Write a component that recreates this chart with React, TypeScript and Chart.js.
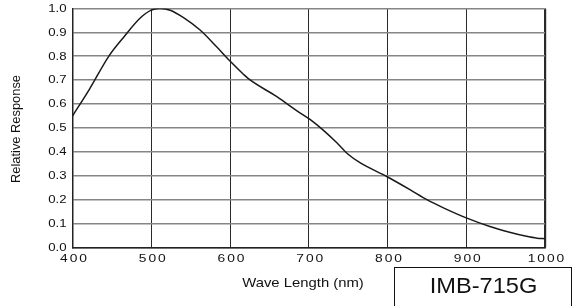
import React, { useEffect, useRef } from "react";
import { Chart, registerables } from "chart.js";

Chart.register(...registerables);

// Data
const wavelengths = [400, 422, 446, 465, 486, 500, 511, 524, 541, 562, 583, 600, 617, 625, 659, 685, 702, 718, 736, 750, 765, 799, 829, 850, 871, 900, 930, 955, 975, 990, 1000];
const response = [0.55, 0.665, 0.80, 0.88, 0.96, 0.993, 1.0, 0.993, 0.962, 0.91, 0.84, 0.78, 0.725, 0.702, 0.632, 0.572, 0.535, 0.492, 0.437, 0.39, 0.355, 0.297, 0.241, 0.20, 0.166, 0.124, 0.088, 0.064, 0.048, 0.039, 0.037];
const xTickValues = [400, 500, 600, 700, 800, 900, 1000];
const yTickValues = [0, 0.1, 0.2, 0.3, 0.4, 0.5, 0.6, 0.7, 0.8, 0.9, 1.0];
const yTickLabels = ["0.0", "0.1", "0.2", "0.3", "0.4", "0.5", "0.6", "0.7", "0.8", "0.9", "1.0"];
const xTitle = "Wave Length (nm)";
const yTitle = "Relative Response";
const modelLabel = "IMB-715G";

const FONT = "Arial, 'Liberation Sans', sans-serif";

function stretchedText(ctx: CanvasRenderingContext2D, text: string, x: number, y: number, sx: number, align: CanvasTextAlign, ls = 0) {
  ctx.save();
  ctx.translate(x, y);
  ctx.scale(sx, 1);
  (ctx as any).letterSpacing = ls + "px";
  ctx.textAlign = align;
  ctx.textBaseline = "middle";
  let dx = 0;
  if (ls && align === "center") dx = ls / 2;
  if (ls && align === "right") dx = ls;
  ctx.fillText(text, dx, 0);
  ctx.restore();
}

const decorPlugin = {
  id: "decor",
  afterDraw(chart: any) {
    const ctx: CanvasRenderingContext2D = chart.ctx;
    const xs = chart.scales.x;
    const ys = chart.scales.y;
    const area = chart.chartArea;
    ctx.save();
    ctx.fillStyle = "#111";
    // y tick labels
    ctx.font = `10px ${FONT}`;
    yTickValues.forEach((v, i) => {
      stretchedText(ctx, yTickLabels[i], area.left - 6, ys.getPixelForValue(v) + 0.5, 1.32, "right");
    });
    // x tick labels
    ctx.font = `11.5px ${FONT}`;
    xTickValues.forEach((v) => {
      stretchedText(ctx, String(v), xs.getPixelForValue(v) + 1, 258.5, 1.2, "center", 1.6);
    });
    // axis titles
    ctx.font = `13.5px ${FONT}`;
    stretchedText(ctx, xTitle, 303, 283, 1.1, "center");
    ctx.save();
    ctx.translate(17, (area.top + area.bottom) / 2 + 1);
    ctx.rotate(-Math.PI / 2);
    ctx.font = `12.5px ${FONT}`;
    stretchedText(ctx, yTitle, 0, 0, 1.03, "center");
    ctx.restore();
    // model box
    ctx.strokeStyle = "#111";
    ctx.lineWidth = 1;
    ctx.strokeRect(394.5, 267.5, 177, 50);
    ctx.font = `22.5px ${FONT}`;
    stretchedText(ctx, modelLabel, 483.5, 287, 1.05, "center");
    ctx.restore();
  },
};

export default function App() {
  const ref = useRef<HTMLCanvasElement | null>(null);
  useEffect(() => {
    if (!ref.current) return;
    const chart = new Chart(ref.current, {
      type: "line",
      data: {
        datasets: [
          {
            data: wavelengths.map((w, i) => ({ x: w, y: response[i] })),
            borderColor: "#1a1a1a",
            borderWidth: 1.5,
            pointRadius: 0,
            cubicInterpolationMode: "monotone",
            fill: false,
          },
        ],
      },
      options: {
        responsive: false,
        animation: false,
        layout: { padding: { left: 0, top: 8.5, right: 28, bottom: 0 } },
        plugins: { legend: { display: false }, tooltip: { enabled: false } },
        scales: {
          x: {
            type: "linear",
            min: 400,
            max: 1000,
            afterBuildTicks: (s: any) => {
              s.ticks = xTickValues.map((v) => ({ value: v }));
            },
            afterFit: (s: any) => {
              s.height = 58.5;
            },
            ticks: { display: false },
            grid: {
              color: "#2a2a2a",
              lineWidth: (c: any) => (c.tick && c.tick.value === 1000 ? 2.2 : 1),
              drawTicks: false,
            },
            border: { display: true, color: "#222", width: 1.5 },
          },
          y: {
            type: "linear",
            min: 0,
            max: 1,
            afterBuildTicks: (s: any) => {
              s.ticks = yTickValues.map((v) => ({ value: v }));
            },
            afterFit: (s: any) => {
              s.width = 72.5;
            },
            ticks: { display: false },
            grid: { color: "#858585", lineWidth: 1.6, drawTicks: false },
            border: { display: true, color: "#222", width: 1.5 },
          },
        },
      },
      plugins: [decorPlugin],
    } as any);
    return () => chart.destroy();
  }, []);
  return (
    <div style={{ position: "fixed", left: 0, top: 0, width: 573, height: 306, background: "#fff" }}>
      <canvas ref={ref} width={573} height={306} />
    </div>
  );
}
